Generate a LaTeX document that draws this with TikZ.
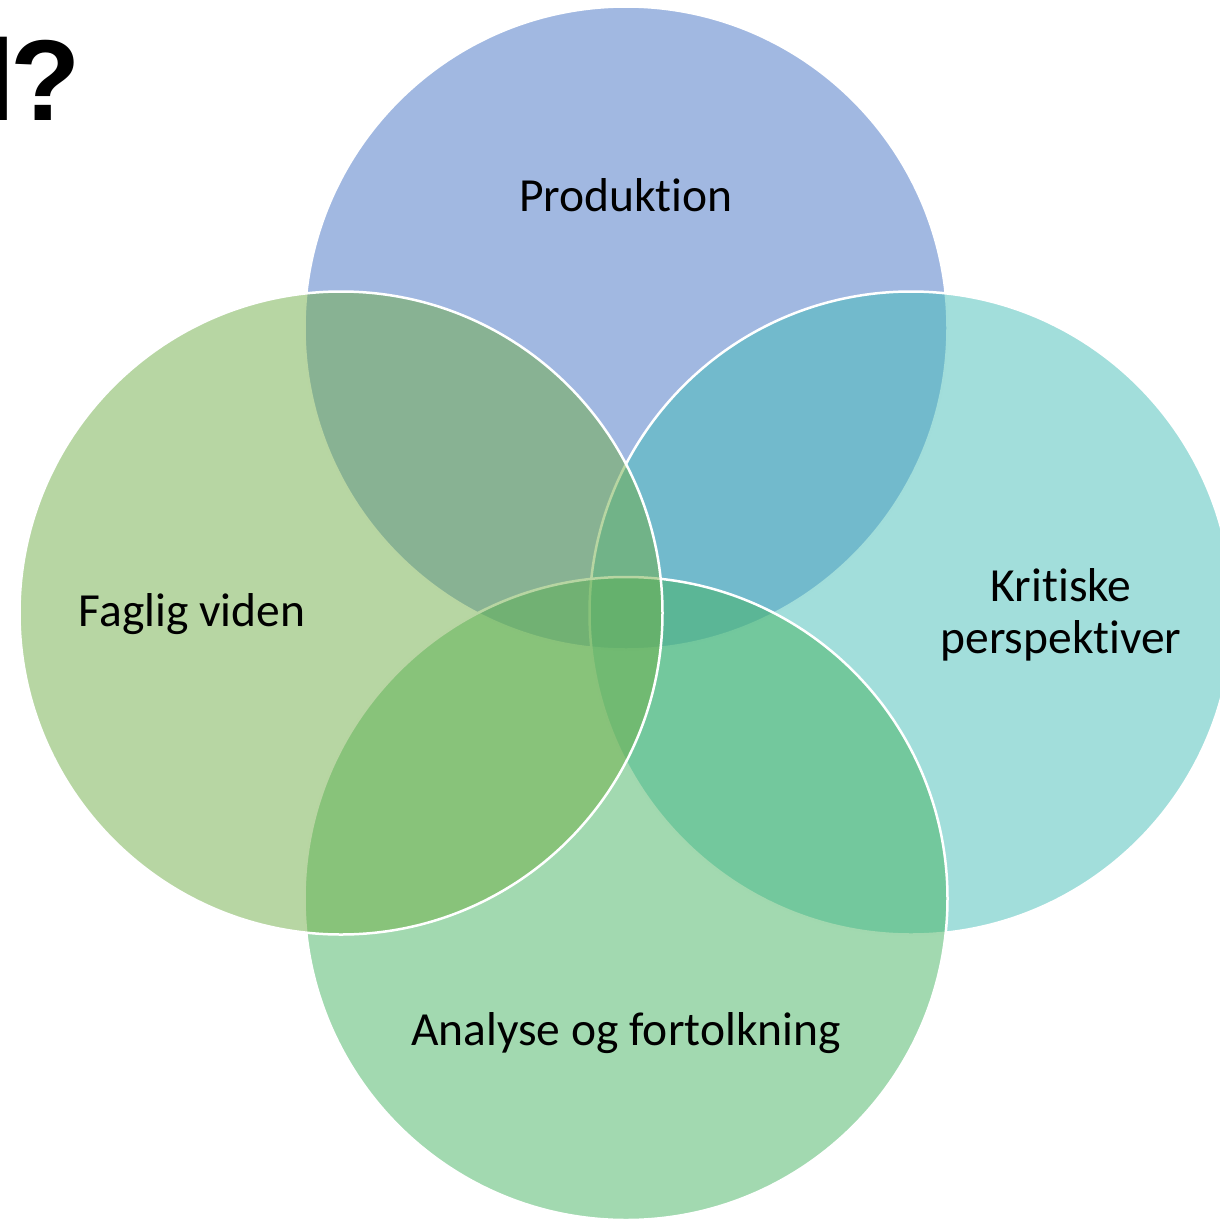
\documentclass[tikz,border=0pt]{standalone}
\usepackage{fontspec}
\setmainfont[Ligatures=NoCommon]{Carlito}
\newfontfamily\headfont{Liberation Sans}
\definecolor{cTop}{HTML}{4472C4}
\definecolor{cRight}{HTML}{45BDB7}
\definecolor{cBottom}{HTML}{45B361}
\definecolor{cLeft}{HTML}{70AD47}
\tikzset{
  venn/.style={circle, minimum size=643pt, inner sep=0pt, draw=white, line width=2.5pt, fill opacity=0.5, draw opacity=1},
  lbl/.style={font=\fontsize{47.5}{52}\selectfont, text=black, align=center, inner sep=0pt}
}
\begin{document}
\begin{tikzpicture}[x=1pt,y=-1pt]
\useasboundingbox (0,0) rectangle (1220,1221);
\clip (0,0) rectangle (1220,1221);
\node[venn, fill=cTop] (top) at (626,328) {};
\node[venn, fill=cRight] (right) at (911,613) {};
\node[venn, fill=cBottom] (bottom) at (626,898.5) {};
\node[venn, fill=cLeft] (left) at (341,613) {};
\node[lbl] (tProd) at (626,195) {Produktion};
\node[lbl] (tFag) at (192,614.5) {Faglig viden};
\node[lbl] (tKrit) at (1061,614.5) {Kritiske\\perspektiver};
\node[lbl] (tAna) at (626,1033.5) {Analyse og fortolkning};
\node[anchor=base east, inner sep=0pt, font=\headfont\bfseries\fontsize{115}{120}\selectfont] (head) at (81,120) {l\kern-5pt?};
\end{tikzpicture}
\end{document}
